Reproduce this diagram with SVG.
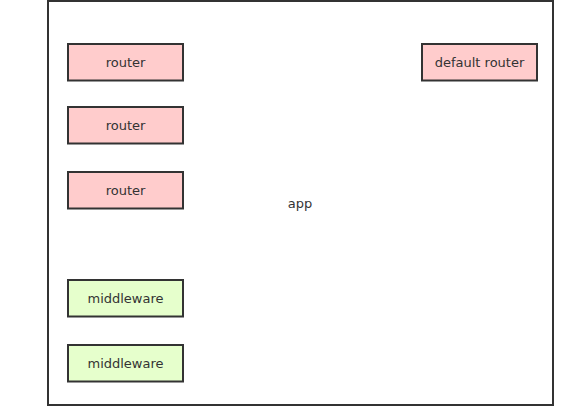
<svg xmlns="http://www.w3.org/2000/svg" width="585" height="406" viewBox="0 0 585 406">
<style>
.box{stroke:#333;stroke-width:2}
.r{fill:#ffcccc}
.m{fill:#e6ffcc}
text{font-family:"DejaVu Sans","Noto Sans",sans-serif;font-size:13px;fill:#333;text-anchor:middle;dominant-baseline:central}
</style>
<rect width="585" height="406" fill="#fff"/>
<g id="app">
<rect x="48" y="1" width="505" height="404" fill="#fff" stroke="#333" stroke-width="2"/>
<text x="300" y="203">app</text>
</g>
<g id="router1"><rect class="box r" x="68" y="44" width="115" height="36.5"/><text x="125.5" y="62">router</text></g>
<g id="router2"><rect class="box r" x="68" y="107" width="115" height="36.5"/><text x="125.5" y="125">router</text></g>
<g id="router3"><rect class="box r" x="68" y="172" width="115" height="36.5"/><text x="125.5" y="190">router</text></g>
<g id="default-router"><rect class="box r" x="422" y="44" width="115" height="36.5"/><text x="479.5" y="62">default router</text></g>
<g id="middleware1"><rect class="box m" x="68" y="280" width="115" height="36.5"/><text x="125.5" y="298">middleware</text></g>
<g id="middleware2"><rect class="box m" x="68" y="345" width="115" height="36.5"/><text x="125.5" y="363">middleware</text></g>
<g id="connectors"></g>
</svg>
